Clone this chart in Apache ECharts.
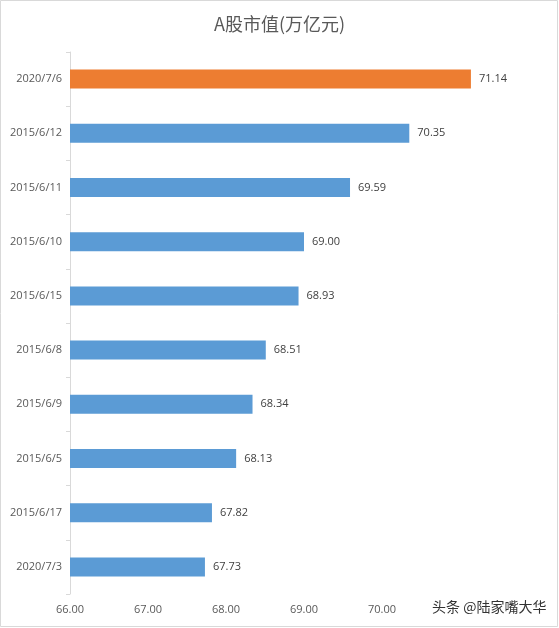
<!DOCTYPE html>
<html>
<head>
<meta charset="utf-8">
<script src="https://cdn.jsdelivr.net/npm/echarts@6/dist/echarts.min.js"></script>
<style>
html,body{margin:0;padding:0;background:#fff;}
#c{width:559px;height:628px;}
</style>
</head>
<body>
<div id="c"></div>
<script>
var categories = ['2020/7/6','2015/6/12','2015/6/11','2015/6/10','2015/6/15','2015/6/8','2015/6/9','2015/6/5','2015/6/17','2020/7/3'];
var values = [71.14, 70.35, 69.59, 69.00, 68.93, 68.51, 68.34, 68.13, 67.82, 67.73];
var highlightIndex = 0;
var titleText = 'A股市值(万亿元)';
var watermarkText = '头条 @陆家嘴大华';

var chart = echarts.init(document.getElementById('c'));
var barData = values.map(function (v, i) {
  return { value: v, itemStyle: { color: i === highlightIndex ? '#ED7D31' : '#5B9BD5' } };
});
chart.setOption({
  backgroundColor: '#fff',
  animation: false,
  title: {
    text: titleText, left: 'center', top: 10,
    textStyle: { fontFamily: 'Noto Sans CJK SC', fontSize: 18, fontWeight: 'normal', color: '#595959' }
  },
  grid: { left: 70, right: 21, top: 52, bottom: 34, containLabel: false },
  xAxis: {
    type: 'value', min: 66, max: 72, interval: 1,
    axisLine: { show: false }, axisTick: { show: false }, splitLine: { show: false },
    axisLabel: { showMaxLabel: false, formatter: function (v) { return v >= 72 ? '' : v.toFixed(2); }, color: '#595959', fontSize: 11, fontFamily: 'Open Sans', margin: 10 }
  },
  yAxis: {
    type: 'category', data: categories, inverse: true,
    axisLine: { show: true, lineStyle: { color: '#d9d9d9', width: 1 } },
    axisTick: { show: true, length: 4, lineStyle: { color: '#d9d9d9' } },
    axisLabel: { color: '#595959', fontSize: 11, fontFamily: 'Open Sans', margin: 8 }
  },
  series: [{
    type: 'bar', data: barData, barWidth: '35%',
    label: { show: true, position: 'right', distance: 8, formatter: function (p) { return p.value.toFixed(2); }, color: '#404040', fontSize: 11, fontFamily: 'Open Sans' }
  }],
  graphic: [
    { type: 'rect', shape: { x: 0.5, y: 0.5, width: 557, height: 626 }, style: { fill: 'none', stroke: '#d9d9d9', lineWidth: 1 }, z: 100 },
    { type: 'text', left: 432, top: 599, z: 101,
      style: { text: watermarkText, fontSize: 14, fontFamily: 'Noto Sans CJK SC', fill: '#333', backgroundColor: '#fff', padding: [1, 0, 1, 0] } }
  ]
});
</script>
</body>
</html>
